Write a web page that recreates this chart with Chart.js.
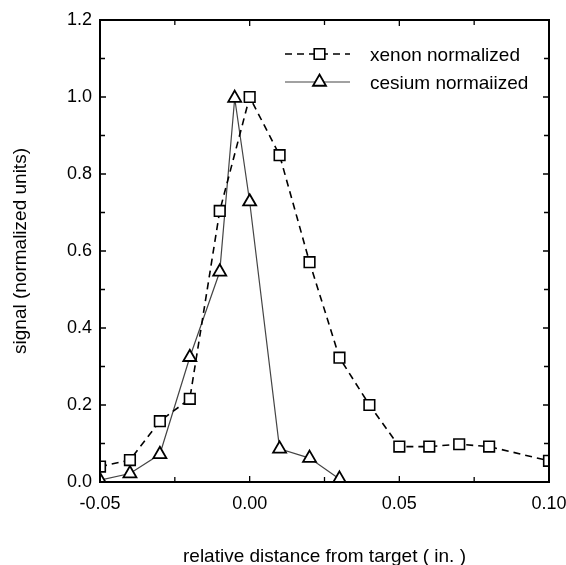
<!DOCTYPE html>
<html>
<head>
<meta charset="utf-8">
<script src="https://cdn.jsdelivr.net/npm/chart.js@4.4.1/dist/chart.umd.min.js"></script>
<style>
  html, body { margin: 0; padding: 0; background: #fff; }
  #wrap { width: 566px; height: 565px; }
</style>
</head>
<body>
<div id="wrap"><canvas id="profileChart" width="566" height="565"></canvas></div>
<script>
// values
const xenonX = [-0.05, -0.04, -0.03, -0.02, -0.01, 0.00, 0.01, 0.02, 0.03, 0.04, 0.05, 0.06, 0.07, 0.08, 0.10];
const xenonY = [0.040, 0.057, 0.158, 0.216, 0.704, 1.000, 0.849, 0.571, 0.323, 0.200, 0.092, 0.092, 0.098, 0.092, 0.055];
const cesiumX = [-0.05, -0.04, -0.03, -0.02, -0.01, -0.005, 0.00, 0.01, 0.02, 0.03];
const cesiumY = [0.005, 0.022, 0.072, 0.324, 0.546, 0.997, 0.728, 0.086, 0.062, 0.008];
const seriesNames = ["xenon normalized", "cesium normaiized"];
const xTicks = [-0.05, 0.00, 0.05, 0.10];
const yTicks = [0.0, 0.2, 0.4, 0.6, 0.8, 1.0, 1.2];

const FONT = "'Liberation Sans', Arial, Helvetica, sans-serif";

function pts(xs, ys) {
    return xs.map((x, i) => ({ x: x, y: ys[i] }));
}

// frame, inward ticks on all four sides, and the boxed-in legend
const framePlugin = {
    id: "frame",
    afterDraw(chart) {
        const ctx = chart.ctx;
        const a = chart.chartArea;
        const xs = chart.scales.x, ys = chart.scales.y;
        ctx.save();
        ctx.strokeStyle = "#000";
        ctx.lineWidth = 1.3;
        ctx.beginPath();
        // x ticks every 0.025, y ticks every 0.1
        for (let k = 0; k <= 6; k++) {
            const px = xs.getPixelForValue(-0.05 + k * 0.025);
            const len = k % 2 === 0 ? 6 : 5;
            ctx.moveTo(px, a.bottom); ctx.lineTo(px, a.bottom - len);
            ctx.moveTo(px, a.top); ctx.lineTo(px, a.top + len);
        }
        for (let k = 0; k <= 12; k++) {
            const py = ys.getPixelForValue(k * 0.1);
            const len = k % 2 === 0 ? 6 : 5;
            ctx.moveTo(a.left, py); ctx.lineTo(a.left + len, py);
            ctx.moveTo(a.right, py); ctx.lineTo(a.right - len, py);
        }
        ctx.stroke();
        ctx.lineWidth = 2;
        ctx.strokeRect(a.left, a.top, a.right - a.left, a.bottom - a.top);

        // legend
        const lx0 = a.left + 185, lx1 = a.left + 250, tx = a.left + 270;
        const rows = [a.top + 34, a.top + 62];
        chart.data.datasets.forEach((ds, i) => {
            const y = rows[i];
            ctx.strokeStyle = ds.borderColor;
            ctx.lineWidth = ds.borderWidth;
            ctx.setLineDash(ds.borderDash || []);
            ctx.beginPath();
            ctx.moveTo(lx0, y); ctx.lineTo(lx1, y);
            ctx.stroke();
            ctx.setLineDash([]);
            ctx.fillStyle = "#fff";
            ctx.strokeStyle = "#000";
            ctx.lineWidth = ds.pointBorderWidth;
            Chart.helpers.drawPoint(ctx, {
                pointStyle: ds.pointStyle,
                radius: ds.pointRadius,
                rotation: 0,
                borderWidth: ds.pointBorderWidth
            }, (lx0 + lx1) / 2 + 2, y);
            ctx.fillStyle = "#000";
            ctx.font = "19px " + FONT;
            ctx.textBaseline = "middle";
            ctx.textAlign = "left";
            ctx.fillText(ds.label, tx, y + 2);
        });
        ctx.restore();
    }
};

const ctx = document.getElementById("profileChart").getContext("2d");

new Chart(ctx, {
    type: "scatter",
    data: {
        datasets: [{
            label: seriesNames[0],
            data: pts(xenonX, xenonY),
            showLine: true,
            borderColor: "#000",
            borderWidth: 1.6,
            borderDash: [7, 5],
            pointStyle: "rect",
            pointRadius: 7.5,
            pointBorderWidth: 1.6,
            pointBackgroundColor: "#fff",
            pointBorderColor: "#000"
        }, {
            label: seriesNames[1],
            data: pts(cesiumX, cesiumY),
            showLine: true,
            borderColor: "#444",
            borderWidth: 1.2,
            pointStyle: "triangle",
            pointRadius: 7.5,
            pointBorderWidth: 1.8,
            pointBackgroundColor: "#fff",
            pointBorderColor: "#000"
        }]
    },
    options: {
        responsive: false,
        animation: false,
        layout: { padding: { top: 20, right: 0, left: 0, bottom: 0 } },
        plugins: {
            legend: { display: false },
            tooltip: { enabled: false }
        },
        scales: {
            x: {
                type: "linear",
                min: -0.05,
                max: 0.10,
                afterBuildTicks: (s) => { s.ticks = xTicks.map(v => ({ value: v })); },
                afterFit: (s) => { s.height = 83; s.paddingLeft = 0; s.paddingRight = 17; },
                ticks: {
                    color: "#000",
                    font: { family: FONT, size: 18 },
                    padding: 11,
                    maxRotation: 0,
                    callback: (v) => Number(v).toFixed(2)
                },
                grid: { display: false, drawTicks: false },
                border: { display: false },
                title: {
                    display: true,
                    text: "relative distance from target ( in. )",
                    color: "#000",
                    font: { family: FONT, size: 19 },
                    padding: { top: 0, bottom: -3 }
                }
            },
            y: {
                type: "linear",
                min: 0,
                max: 1.2,
                afterBuildTicks: (s) => { s.ticks = yTicks.map(v => ({ value: v })); },
                afterFit: (s) => { s.width = 100; s.paddingTop = 0; s.paddingBottom = 0; },
                ticks: {
                    color: "#000",
                    font: { family: FONT, size: 18 },
                    padding: 8,
                    callback: (v) => Number(v).toFixed(1)
                },
                grid: { display: false, drawTicks: false },
                border: { display: false },
                title: {
                    display: true,
                    text: "signal (normalized units)",
                    color: "#000",
                    font: { family: FONT, size: 19 },
                    padding: { top: 9, bottom: 0 }
                }
            }
        }
    },
    plugins: [framePlugin]
});
</script>
</body>
</html>
